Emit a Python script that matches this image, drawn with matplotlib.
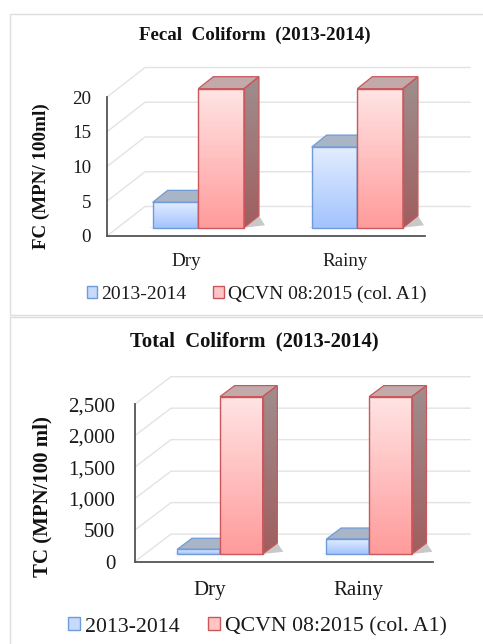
import numpy as np
import matplotlib
matplotlib.use("Agg")
import matplotlib.pyplot as plt
from matplotlib.colors import LinearSegmentedColormap
from matplotlib.patches import Polygon, Rectangle
from matplotlib.transforms import Affine2D, IdentityTransform

plt.rcParams['font.family'] = ['Liberation Serif', 'DejaVu Serif']

categories = ['Dry', 'Rainy']
series_names = ['2013-2014', 'QCVN 08:2015 (col. A1)']
fc_measured = [3.65, 11.6]
fc_standard = [20, 20]
fc_ticks = [0, 5, 10, 15, 20]
fc_labels = ['0', '5', '10', '15', '20']
tc_measured = [75, 238]
tc_standard = [2500, 2500]
tc_ticks = [0, 500, 1000, 1500, 2000, 2500]
tc_labels = ['0', '500', '1,000', '1,500', '2,000', '2,500']

W, H = 483, 644
fig = plt.figure(figsize=(W / 100, H / 100), dpi=100, facecolor='white')
ID = IdentityTransform()

BLUE = dict(face=('#e2edff', '#a2c3fd'), side=('#8f9db5', '#7388a8'), top='#a9b4c6', edge='#6f9bd8')
RED = dict(face=('#ffe4e4', '#ff9b9b'), side=('#9f8e8e', '#a05e5e'), top='#c2aaaa', edge='#c9575b')


def vgrad(c):
    return LinearSegmentedColormap.from_list('g', list(c))


GRAD = np.linspace(0, 1, 128).reshape(-1, 1)


def draw_bar(ax, x, val, width, depth, shift, col, z):
    t = ax.transData + Affine2D().translate(*shift)
    dx, dy = depth
    ax.bar(x, val, width, align='edge', transform=t, facecolor='none',
           edgecolor=col['edge'], linewidth=1.0, clip_on=False, zorder=z + 0.3)
    im = ax.imshow(GRAD, cmap=vgrad(col['face']), extent=(x, x + width, 0, val), origin='upper',
                   aspect='auto', transform=t, zorder=z, interpolation='bilinear')
    im.set_clip_box(fig.bbox)
    im.set_clip_path(Polygon(t.transform([(x, 0), (x + width, 0), (x + width, val), (x, val)]),
                             transform=ID))
    (x0, y0), (x1, y1) = t.transform([(x, 0), (x + width, val)])
    # top face
    ax.add_patch(Polygon([(x0, y1), (x1, y1), (x1 + dx, y1 + dy), (x0 + dx, y1 + dy)], closed=True,
                         transform=ID, facecolor=col['top'], edgecolor=col['edge'], linewidth=0.9,
                         clip_on=False, zorder=z + 0.2))
    # side face
    pts = [(x1, y0), (x1 + dx, y0 + dy), (x1 + dx, y1 + dy), (x1, y1)]
    ax.add_patch(Polygon(pts, closed=True, transform=ID, facecolor='none', edgecolor=col['edge'],
                         linewidth=0.9, clip_on=False, zorder=z + 0.2))
    im2 = ax.imshow(GRAD, cmap=vgrad(col['side']), extent=(x1, x1 + dx, y0, y1 + dy), origin='upper',
                    aspect='auto', transform=ID, zorder=z + 0.1, interpolation='bilinear')
    im2.set_clip_box(fig.bbox)
    im2.set_clip_path(Polygon(pts, transform=ID))


def panel(box, px_axes, wall, bar_w, depth, shift, meas, std, ticks, labels, ymax,
          title, title_xy, title_fs, ylabel, ylab_xy, tick_fs, pad, xpad, leg_xy, leg_fs, colsp):
    # box and px_axes are in image pixels, y downward
    l, t, r, b = px_axes
    ax = fig.add_axes([l / W, 1 - b / H, (r - l) / W, (b - t) / H], facecolor='none')
    ax.set_xlim(-0.5, 1.5)
    ax.set_ylim(0, ymax)
    ax.set_autoscale_on(False)

    fig.add_artist(Rectangle((box[0] / W, 1 - box[3] / H), (box[2] - box[0]) / W, (box[3] - box[1]) / H,
                             transform=fig.transFigure, facecolor='white', edgecolor='#dedede',
                             linewidth=1.0, zorder=-5))

    # walls
    wl, wr, wdy = wall
    for v in ticks:
        (fx, fy) = ax.transData.transform((-0.5, v))
        ax.plot([fx, wl, wr], [fy, fy + wdy, fy + wdy], transform=ID, color='#e3e3e3',
                linewidth=1.0, clip_on=False, zorder=1)

    xs = np.arange(len(categories))
    for i in xs:
        st = ax.transData + Affine2D().translate(*shift)
        (a0, y0), (a1, _) = st.transform([(i - bar_w, 0), (i + bar_w, 0)])
        dx, dy = depth
        # contact shadow
        ax.add_patch(Polygon([(a0 - 4, y0), (a1, y0), (a1 + dx + 6, y0 + dy * 0.2), (a1 + dx, y0 + dy)],
                             closed=True, transform=ID, facecolor='#777777', alpha=0.4,
                             edgecolor='none', clip_on=False, zorder=2))
        draw_bar(ax, i - bar_w, meas[i], bar_w, depth, shift, BLUE, 3)
        draw_bar(ax, i, std[i], bar_w, depth, shift, RED, 5)

    for s in ('top', 'right'):
        ax.spines[s].set_visible(False)
    for s in ('left', 'bottom'):
        ax.spines[s].set_color('#555555')
        ax.spines[s].set_linewidth(1.3)
        ax.spines[s].set_zorder(8)
    ax.set_yticks(ticks, labels, fontsize=tick_fs)
    ax.set_xticks(xs, categories, fontsize=tick_fs)
    ax.tick_params(axis='y', length=0, pad=pad, colors='#1a1a1a')
    ax.tick_params(axis='x', length=0, pad=xpad, colors='#1a1a1a')

    fig.text(title_xy[0] / W, 1 - title_xy[1] / H, title, fontsize=title_fs, fontweight='bold',
             ha='center', va='center', color='#111111')
    fig.text(ylab_xy[0] / W, 1 - ylab_xy[1] / H, ylabel, fontsize=tick_fs, fontweight='bold',
             rotation=90, ha='center', va='center', color='#111111')

    handles = [Rectangle((0, 0), 1, 1, facecolor='#c6dafd', edgecolor=BLUE['edge'], linewidth=1.0),
               Rectangle((0, 0), 1, 1, facecolor='#ffc4c4', edgecolor=RED['edge'], linewidth=1.0)]
    leg = ax.legend(handles, series_names, loc='center', bbox_to_anchor=(leg_xy[0] / W, 1 - leg_xy[1] / H),
                    bbox_transform=fig.transFigure, ncol=2, frameon=False, fontsize=leg_fs,
                    handlelength=0.55, handleheight=0.55, handletextpad=0.2, columnspacing=colsp,
                    borderpad=0, borderaxespad=0)
    for txt in leg.get_texts():
        txt.set_color('#1a1a1a')


panel((9.5, 14, 490, 315), (107, 97, 425, 236), (145, 470, 29.5), 0.287, (15, 12), (11.8, 8.3),
      fc_measured, fc_standard, fc_ticks, fc_labels, 20,
      'Fecal  Coliform  (2013-2014)', (255, 35), 13.7, 'FC (MPN/ 100ml)', (41, 176), 13.7, 11.5, 12.5,
      (256.5, 294), 14, 1.39)
panel((9.5, 317, 490, 650), (134.7, 404.3, 433, 561.7), (171, 470, 27.6), 0.286, (14.7, 11), (10.7, 7.7),
      tc_measured, tc_standard, tc_ticks, tc_labels, 2500,
      'Total  Coliform  (2013-2014)', (254, 341), 14.9, 'TC (MPN/100 ml)', (42, 497), 15, 14, 14,
      (257.5, 627), 15.7, 1.33)

fig.savefig('out.png', dpi=100)
